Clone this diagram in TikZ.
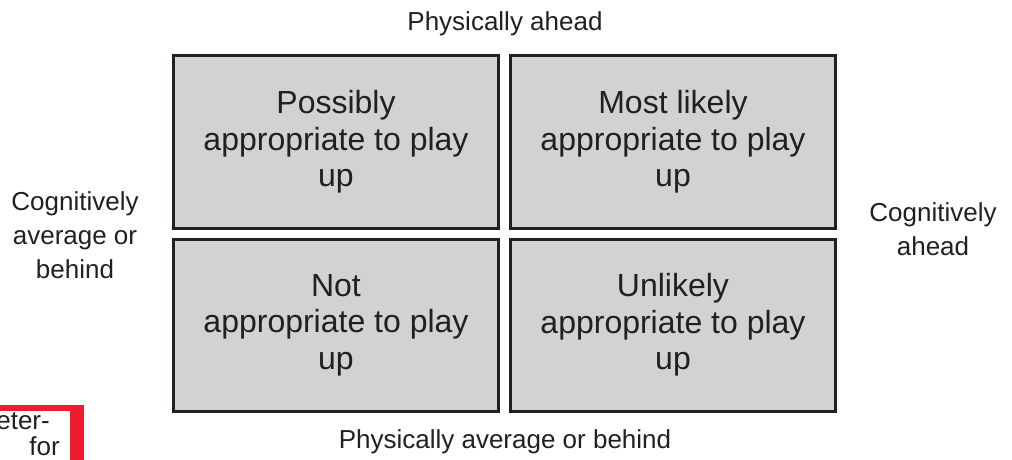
\documentclass[tikz,border=0pt]{standalone}
\usepackage{fontspec}
\setmainfont{Liberation Sans}
\definecolor{ink}{HTML}{231F20}
\definecolor{boxfill}{HTML}{D1D2D4}
\definecolor{redbar}{HTML}{ED1C2E}
\begin{document}
\begin{tikzpicture}[x=1pt,y=-1pt,
  quad/.style={draw=ink,fill=boxfill,line width=3pt,minimum width=325pt,minimum height=172pt,
    align=center,text=ink,font=\fontsize{32}{36.5}\selectfont,inner sep=0pt},
  lab/.style={text=ink,align=center,font=\fontsize{26}{34}\selectfont,inner sep=0pt}]
\path[use as bounding box] (0,0) rectangle (1012,460);
\node[quad] (tl) at (336,142) {Possibly\\appropriate to play\\up};
\node[quad] (tr) at (673,142) {Most likely\\appropriate to play\\up};
\node[quad] (bl) at (336,325) {Not\\appropriate to play\\up};
\node[quad] (br) at (673,325) {Unlikely\\appropriate to play\\up};
\node[lab] (top) at (505,24) {Physically ahead};
\node[lab] (bot) at (505,442) {Physically average or behind};
\node[lab] (left) at (75,235) {Cognitively\\average or\\behind};
\node[lab] (right) at (933,229) {Cognitively\\ahead};
\fill[redbar] (0,405) rectangle (84,411);
\fill[redbar] (70,405) rectangle (84,460);
\node[lab,anchor=base east] (t1) at (50,429) {eter-};
\node[lab,anchor=base east] (t2) at (60,455) {for};
\end{tikzpicture}
\end{document}
